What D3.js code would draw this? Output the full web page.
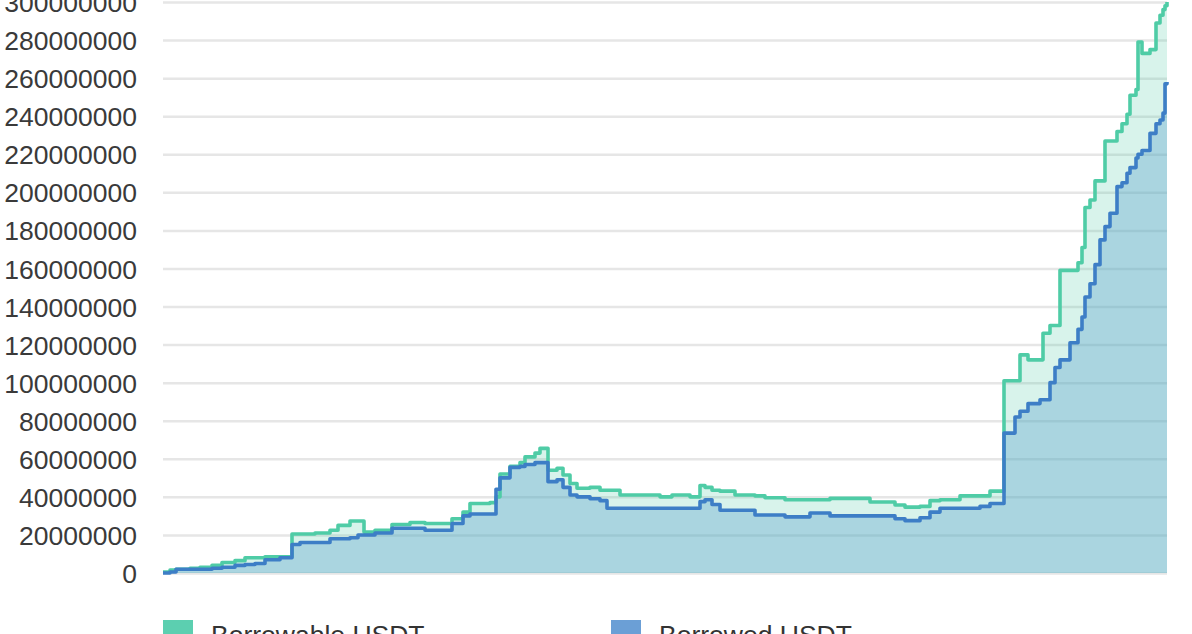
<!DOCTYPE html>
<html>
<head>
<meta charset="utf-8">
<script src="https://cdn.jsdelivr.net/npm/d3@7"></script>
<style>
  html, body { margin: 0; padding: 0; background: #ffffff; overflow: hidden; }
  svg { display: block; font-family: "Liberation Sans", Arial, sans-serif; }
</style>
</head>
<body>
<svg id="chart" width="1192" height="634"></svg>
<script>
// ---- data (values in millions of USDT) ----
const days = [0,7,13,27,37,49,59,72,82,92,102,117,129,137,152,167,175,187,195,201,212,229,247,262,289,300,307,327,333,337,347,357,362,372,377,385,394,400,407,414,427,437,444,457,477,497,509,527,537,542,549,557,572,592,602,622,647,667,707,732,742,757,767,777,797,817,827,841,852,857,865,877,880,887,892,897,907,915,919,922,927,932,937,942,947,954,959,964,967,973,975,979,987,993,997,1000,1002,1004];
const borrowable = [0.5,1.5,2,2.5,3,4,5.5,6.5,8,8,8.5,8.5,20.5,20.5,21,22.5,25,27.3,27.3,21.5,22.5,25.5,26.5,26,28.5,32,36.5,37,40,52,56,58,61,63,65.5,54,55,51.5,47,44.5,45,43.5,43.5,41,41,40,41,40,46,45,43.5,43,41,40.5,39.5,38.5,38.5,39.2,37.3,35.7,34.6,35,38,38.5,40.5,40.5,43,101,101,114.6,112,112,126,130,130,159,159,163,171,192,196,206,206,227,227,232,236,241,251,254,279,273,275,289,293,296,298,300];
const borrowed = [0,0.5,2,2,2,2.5,3,4,4.5,5,7,8,15,16,16,18,18,18.5,20,20,21,23.5,23.5,22.5,26,30,31,31,44,50,55.5,56,57,58,58,48,49,45,41,40,39,38,34,34,34,34,34,34,37.5,38.5,36,33,33,30.5,30.5,29.5,31.5,30,30,28.5,27.5,29,32,34,34,35,36.5,73.5,82,85,89,91,91,100,108,112,121,128,134.5,145,152,162,175,182,189,203,205,210,213,218,220,222,231,236,238,241.6,257,258];
const yTicks = [0,20,40,60,80,100,120,140,160,180,200,220,240,260,280,300];
const seriesNames = ["Borrowable  USDT", "Borrowed  USDT"];
const seriesColors = ["#4fcca6", "#3d7ec6"];

const rows = days.map((d, i) => ({ d, a: borrowable[i], b: borrowed[i] }));

const svg = d3.select("#chart");
const x = d3.scaleLinear().domain([0, 1004]).range([163, 1167]);
const y = d3.scaleLinear().domain([0, 300]).range([573, 2]);

// gridlines
const grid = svg.append("g")
  .attr("transform", "translate(163,0)")
  .call(d3.axisRight(y).tickValues(yTicks).tickSize(1004).tickFormat(""));
grid.select(".domain").remove();
grid.selectAll("line").attr("stroke", "#e6e6e6").attr("stroke-width", 2.5);

// y labels
const yAxis = svg.append("g")
  .attr("transform", "translate(137,0)")
  .call(d3.axisLeft(y).tickValues(yTicks).tickSize(0).tickPadding(0)
    .tickFormat(v => d3.format("d")(v * 1e6)));
yAxis.select(".domain").remove();
yAxis.selectAll("text")
  .attr("fill", "#3a3a3a")
  .style("font-size", "26.5px")
  .attr("dy", "0.36em");

const curve = d3.curveStepAfter;

// areas
svg.append("path").datum(rows)
  .attr("fill", "#4fc9a4").attr("fill-opacity", 0.22)
  .attr("d", d3.area().curve(curve).x(r => x(r.d)).y0(y(0)).y1(r => y(r.a)));
svg.append("path").datum(rows)
  .attr("fill", "rgb(90,160,206)").attr("fill-opacity", 0.36)
  .attr("d", d3.area().curve(curve).x(r => x(r.d)).y0(y(0)).y1(r => y(r.b)));

// lines
svg.append("path").datum(rows)
  .attr("fill", "none").attr("stroke", seriesColors[0]).attr("stroke-width", 3.6)
  .attr("stroke-linejoin", "round")
  .attr("d", d3.line().curve(curve).x(r => x(r.d)).y(r => y(r.a)));
svg.append("path").datum(rows)
  .attr("fill", "none").attr("stroke", seriesColors[1]).attr("stroke-width", 3.6)
  .attr("stroke-linejoin", "round")
  .attr("d", d3.line().curve(curve).x(r => x(r.d)).y(r => y(r.b)));

// legend
const legendX = [163, 611];
const legend = svg.append("g");
seriesNames.forEach((name, i) => {
  legend.append("rect")
    .attr("x", legendX[i]).attr("y", 620).attr("width", 30).attr("height", 30)
    .attr("fill", i === 0 ? "#5ccfb0" : "#6b9fd6");
  legend.append("text")
    .attr("x", legendX[i] + 48).attr("y", 644)
    .attr("fill", "#333")
    .style("font-size", "26.5px")
    .text(name);
});
</script>
</body>
</html>
